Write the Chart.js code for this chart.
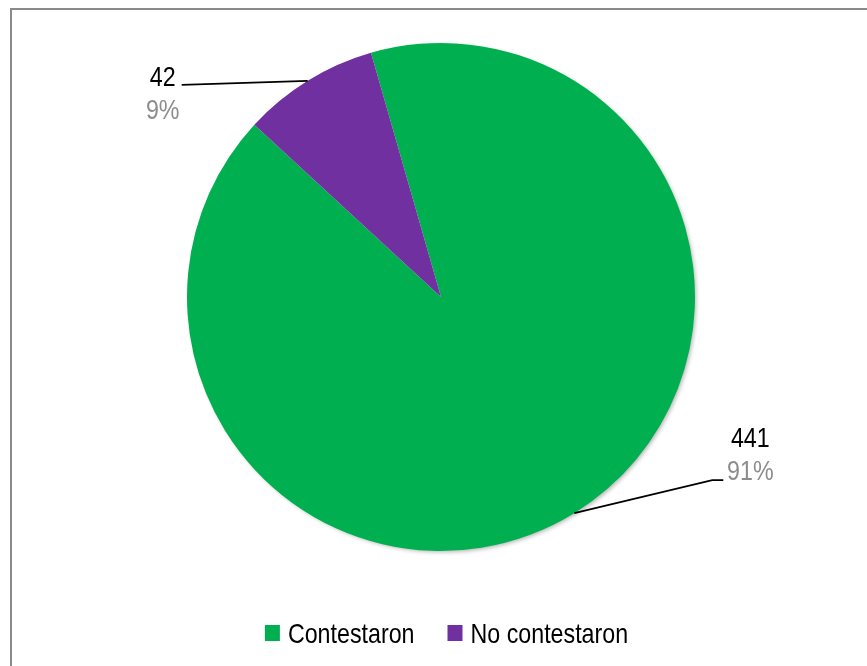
<!DOCTYPE html>
<html>
<head>
<meta charset="utf-8">
<script src="https://cdn.jsdelivr.net/npm/chart.js@4/dist/chart.umd.min.js"></script>
<style>
  html, body { margin: 0; padding: 0; background: #fff; overflow: hidden; }
  #wrap { position: relative; width: 867px; height: 666px; }
  #frame {
    position: absolute; left: 10px; top: 8px; width: 870px; height: 680px;
    border: 2px solid #8a8a8a; box-sizing: border-box;
  }
  #box { position: absolute; left: 0; top: 0; width: 867px; height: 666px; }
</style>
</head>
<body>
<div id="wrap">
  <div id="frame"></div>
  <div id="box"><canvas id="pieChart"></canvas></div>
</div>
<script>
const categories = ["Contestaron", "No contestaron"];
const values = [441, 42];
const colors = ["#00B050", "#7030A0"];

const FONT = "28px 'Liberation Sans', Arial, sans-serif";
const NARROW = 0.83; // the original uses a narrow face, squeeze regular one

// where each label sits relative to its slice edge (bend point, line end, text baseline)
const labelLayout = [
  { bend: [138, -33], end: [149, -33], text: [176, -66] },
  { bend: null, end: [-126, 4], text: [-145, 5] }
];

const total = values.reduce((a, b) => a + b, 0);

function narrowText(ctx, text, x, y, align) {
  const w = ctx.measureText(text).width * NARROW;
  let left = x;
  if (align === "center") left = x - w / 2;
  ctx.save();
  ctx.translate(left, y);
  ctx.scale(NARROW, 1);
  ctx.textAlign = "left";
  ctx.fillText(text, 0, 0);
  ctx.restore();
  return w;
}

// ===== SHADOW UNDER THE PIE =====
const shadowPlugin = {
  id: "shadow",
  beforeDatasetsDraw(chart) {
    const arc = chart.getDatasetMeta(0).data[0];
    if (!arc) return;
    const p = arc.getProps(["x", "y", "outerRadius"], true);
    const ctx = chart.ctx;
    ctx.save();
    ctx.shadowColor = "rgba(0,0,0,0.3)";
    ctx.shadowBlur = 4;
    ctx.shadowOffsetX = 2;
    ctx.shadowOffsetY = 2;
    ctx.fillStyle = "#fff";
    ctx.beginPath();
    ctx.arc(p.x, p.y, p.outerRadius - 1, 0, Math.PI * 2);
    ctx.fill();
    ctx.restore();
  }
};

// ===== LABELS WITH LEADER LINES =====
const leaderLabels = {
  id: "leaderLabels",
  afterDatasetsDraw(chart) {
    const ctx = chart.ctx;
    const meta = chart.getDatasetMeta(0);

    meta.data.forEach((arc, i) => {
      const p = arc.getProps(["x", "y", "startAngle", "endAngle", "outerRadius"], true);
      const mid = (p.startAngle + p.endAngle) / 2;
      const ax = p.x + Math.cos(mid) * p.outerRadius;
      const ay = p.y + Math.sin(mid) * p.outerRadius;
      const lay = labelLayout[i];

      ctx.save();
      ctx.strokeStyle = "#000";
      ctx.lineWidth = 1.75;
      ctx.beginPath();
      ctx.moveTo(ax, ay);
      if (lay.bend) ctx.lineTo(ax + lay.bend[0], ay + lay.bend[1]);
      ctx.lineTo(ax + lay.end[0], ay + lay.end[1]);
      ctx.stroke();

      const tx = ax + lay.text[0];
      const ty = ay + lay.text[1];
      const pct = Math.round(values[i] / total * 100) + "%";

      ctx.font = FONT;
      ctx.textBaseline = "alphabetic";
      ctx.fillStyle = "#000";
      narrowText(ctx, String(values[i]), tx, ty, "center");
      ctx.fillStyle = "#8c8c8c";
      narrowText(ctx, pct, tx, ty + 33, "center");
      ctx.restore();
    });
  }
};

// ===== LEGEND =====
const bottomLegend = {
  id: "bottomLegend",
  afterDraw(chart) {
    const ctx = chart.ctx;
    const boxW = 15, boxH = 16, gap = 8, itemGap = 33;
    const baseline = 643;
    ctx.save();
    ctx.font = FONT;
    const widths = categories.map(c => ctx.measureText(c).width * NARROW);
    const full = widths.reduce((a, w) => a + boxW + gap + w, 0) + itemGap * (categories.length - 1);
    let x = chart.width / 2 + 13 - full / 2;
    categories.forEach((c, i) => {
      ctx.fillStyle = colors[i];
      ctx.fillRect(x, baseline - 18, boxW, boxH);
      x += boxW + gap;
      ctx.fillStyle = "#000";
      ctx.textBaseline = "alphabetic";
      narrowText(ctx, c, x, baseline, "left");
      x += widths[i] + itemGap;
    });
    ctx.restore();
  }
};

const ctx = document.getElementById("pieChart").getContext("2d");

window.chart = new Chart(ctx, {
  type: "pie",
  data: {
    labels: categories,
    datasets: [{
      data: values,
      backgroundColor: colors,
      borderWidth: 0
    }]
  },
  options: {
    responsive: true,
    maintainAspectRatio: false,
    animation: false,
    events: [],
    rotation: -16,
    layout: {
      padding: { top: 43, left: 15, right: 0, bottom: 115 }
    },
    plugins: {
      tooltip: { enabled: false },
      legend: { display: false }
    }
  },
  plugins: [shadowPlugin, leaderLabels, bottomLegend]
});
</script>
</body>
</html>
